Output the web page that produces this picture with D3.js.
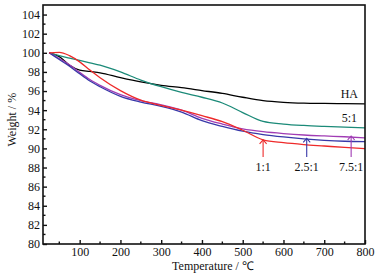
<!DOCTYPE html>
<html lang="en">
<head>
<meta charset="UTF-8">
<title>TG</title>
<script src="https://cdn.jsdelivr.net/npm/d3@7"></script>
<style>
    body { margin: 0; background: #fff; }
    svg text { font-family: "Liberation Serif", "Times New Roman", serif; fill: #111; }
</style>
</head>
<body>
<svg id="chart"></svg>
<script>
// temperature grid (℃)
var temps = [25, 50, 75, 100, 125, 150, 200, 250, 300, 350, 400, 450, 500, 550, 600, 650, 700, 750, 800];
// weight (%) for each sample
var wHA   = [100, 99.6, 98.7, 98.2, 98.05, 97.9, 97.4, 96.95, 96.6, 96.35, 96.05, 95.75, 95.35, 95.0, 94.82, 94.73, 94.7, 94.68, 94.66];
var w5_1  = [100, 99.7, 99.45, 99.2, 98.95, 98.7, 98.0, 97.15, 96.45, 95.85, 95.35, 94.75, 93.75, 92.82, 92.55, 92.4, 92.3, 92.22, 92.15];
var w1_1  = [100, 100.05, 99.7, 99.05, 98.2, 97.4, 96.05, 95.05, 94.5, 94.0, 93.42, 92.8, 91.9, 90.9, 90.6, 90.4, 90.25, 90.1, 89.97];
var w25_1 = [100, 99.3, 98.6, 97.8, 97.05, 96.45, 95.45, 94.85, 94.4, 93.8, 92.9, 92.3, 91.8, 91.45, 91.2, 91.0, 90.85, 90.75, 90.7];
var w75_1 = [100, 99.4, 98.75, 97.95, 97.2, 96.6, 95.62, 95.0, 94.55, 94.0, 93.15, 92.55, 92.05, 91.75, 91.55, 91.4, 91.3, 91.22, 91.1];

var xTicks = [100, 200, 300, 400, 500, 600, 700, 800];
var yTicks = [80, 82, 84, 86, 88, 90, 92, 94, 96, 98, 100, 102, 104];

// arrow annotations: label, temperature, tip weight
var arrowLabels = ['1:1', '2.5:1', '7.5:1'];
var arrowT      = [550, 657, 766];
var arrowTip    = [90.9, 91.05, 91.3];

var W = 380, H = 277;
var m = {left: 43, right: 15, top: 5, bottom: 33};
var svg = d3.select('#chart').attr('width', W).attr('height', H);

var x = d3.scaleLinear().domain([10, 800]).range([m.left, W - m.right]);
var y = d3.scaleLinear().domain([80, 105]).range([H - m.bottom, m.top]);

var series = [
    {name: 'HA',    v: wHA,   color: '#000000'},
    {name: '5:1',   v: w5_1,  color: '#1b8a78'},
    {name: '7.5:1', v: w75_1, color: '#a03cb4'},
    {name: '2.5:1', v: w25_1, color: '#3838a8'},
    {name: '1:1',   v: w1_1,  color: '#ee2a2a'}
];

var line = d3.line()
    .x(function (d) { return x(d[0]); })
    .y(function (d) { return y(d[1]); })
    .curve(d3.curveMonotoneX);

series.forEach(function (s) {
    svg.append('path')
        .datum(temps.map(function (t, i) { return [t, s.v[i]]; }))
        .attr('fill', 'none')
        .attr('stroke', s.color)
        .attr('stroke-width', 1.3)
        .attr('d', line);
});

// frame
svg.append('rect')
    .attr('x', m.left).attr('y', m.top)
    .attr('width', W - m.right - m.left).attr('height', H - m.bottom - m.top)
    .attr('fill', 'none').attr('stroke', '#111').attr('stroke-width', 1.6);

// axes (ticks inside)
var xAxis = d3.axisBottom(x).tickValues(xTicks).tickSizeInner(-4).tickSizeOuter(0).tickPadding(3);
var gx = svg.append('g').attr('transform', 'translate(0,' + (H - m.bottom) + ')').call(xAxis);
var yAxis = d3.axisLeft(y).tickValues(yTicks).tickSizeInner(-4).tickSizeOuter(0).tickPadding(3);
var gy = svg.append('g').attr('transform', 'translate(' + m.left + ',0)').call(yAxis);

[gx, gy].forEach(function (g) {
    g.select('.domain').remove();
    g.selectAll('line').attr('stroke', '#111').attr('stroke-width', 1.4);
    g.selectAll('text').style('font-size', '12px')
        .style('font-family', '"Liberation Serif", "Times New Roman", serif').attr('fill', '#111');
});

// minor ticks
var xMinor = d3.range(50, 800, 100);
svg.selectAll('.xminor').data(xMinor).enter().append('line')
    .attr('x1', function (d) { return x(d); }).attr('x2', function (d) { return x(d); })
    .attr('y1', H - m.bottom).attr('y2', H - m.bottom - 2.5)
    .attr('stroke', '#111').attr('stroke-width', 1.4);
var yMinor = d3.range(81, 105, 2);
svg.selectAll('.yminor').data(yMinor).enter().append('line')
    .attr('x1', m.left).attr('x2', m.left + 2.5)
    .attr('y1', function (d) { return y(d); }).attr('y2', function (d) { return y(d); })
    .attr('stroke', '#111').attr('stroke-width', 1.4);

// axis titles
svg.append('text').attr('x', 213).attr('y', 270).attr('text-anchor', 'middle')
    .style('font-size', '12px').text('Temperature / ℃');
svg.append('text').attr('transform', 'translate(16,' + y(93) + ') rotate(-90)')
    .attr('text-anchor', 'middle').style('font-size', '12px').text('Weight / %');

// right side labels
svg.append('text').attr('x', 358).attr('y', 98).attr('text-anchor', 'end')
    .style('font-size', '12px').text('HA');
svg.append('text').attr('x', 357).attr('y', 121.5).attr('text-anchor', 'end')
    .style('font-size', '12px').text('5:1');

// arrows with labels
var arrowColors = ['#ee2a2a', '#3838a8', '#a03cb4'];
arrowLabels.forEach(function (lab, i) {
    var ax = x(arrowT[i]), tip = y(arrowTip[i]), base = 157;
    svg.append('line').attr('x1', ax).attr('x2', ax).attr('y1', base).attr('y2', tip + 0.5)
        .attr('stroke', arrowColors[i]).attr('stroke-width', 1.1);
    svg.append('path')
        .attr('d', 'M' + (ax - 3.5) + ',' + (tip + 4) + 'L' + ax + ',' + tip + 'L' + (ax + 3.5) + ',' + (tip + 4))
        .attr('fill', 'none').attr('stroke', arrowColors[i]).attr('stroke-width', 1.1);
    svg.append('text').attr('x', ax).attr('y', 171).attr('text-anchor', 'middle')
        .style('font-size', '12px').text(lab);
});
</script>
</body>
</html>
